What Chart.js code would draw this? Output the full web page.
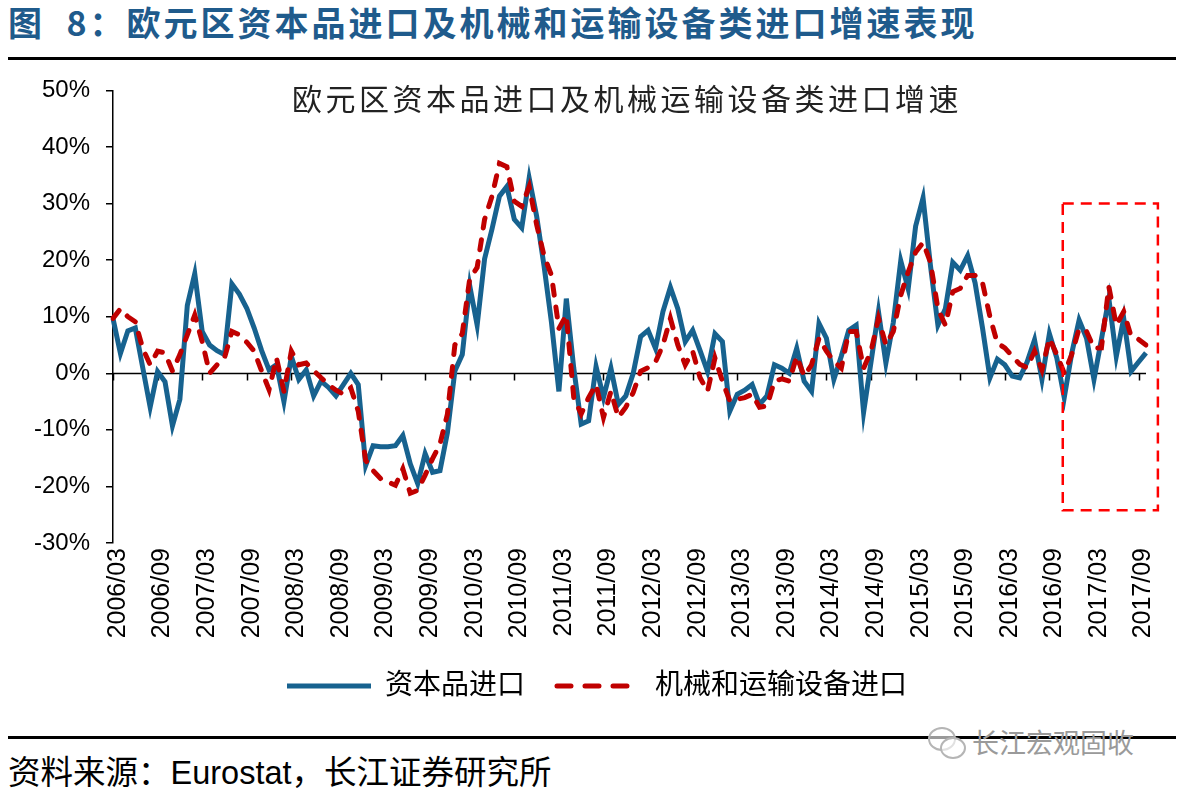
<!DOCTYPE html>
<html>
<head>
<meta charset="utf-8">
<script src="https://cdn.jsdelivr.net/npm/chart.js@4.4.0/dist/chart.umd.min.js"></script>
<style>
  body {
    margin: 0;
    background: #fff;
    width: 1183px;
    height: 794px;
    position: relative;
    overflow: hidden;
    font-family: 'Liberation Sans', 'Noto Sans CJK SC', sans-serif;
  }
  #fig-title {
    position: absolute; left: 8px; top: 0; line-height: 44px;
    font-family: 'Noto Sans CJK SC', sans-serif;
    font-size: 34px; font-weight: bold; color: #1f5b8c;
    letter-spacing: 3px; white-space: nowrap;
  }
  .rule { position: absolute; left: 8px; width: 1168px; height: 3px; background: #000; }
  #chart-title {
    position: absolute; left: 227px; width: 800px; top: 80px; line-height: 34px;
    text-align: center; font-family: 'Noto Sans CJK SC', sans-serif;
    font-size: 30px; letter-spacing: 3.5px; color: #222; white-space: nowrap;
  }
  #wrap { position: absolute; left: 0; top: 60px; }
  #source {
    position: absolute; left: 8px; top: 754px; line-height: 38px;
    font-size: 32.5px; color: #000; white-space: nowrap;
  }
  #mark {
    position: absolute; left: 972px; top: 726px; line-height: 32px;
    font-family: 'Noto Sans CJK SC', sans-serif;
    font-size: 27px; color: #9a9a9a; white-space: nowrap;
  }
  .bubble { position: absolute; border: 2px solid #b5b5b5; border-radius: 50%; background: rgba(255,255,255,0.6); }
</style>
</head>
<body>
<div id="fig-title">图&nbsp;&nbsp;8：欧元区资本品进口及机械和运输设备类进口增速表现</div>
<div class="rule" style="top:57px"></div>
<div id="wrap"><canvas id="chart" width="1183" height="650"></canvas></div>
<div id="chart-title">欧元区资本品进口及机械运输设备类进口增速</div>
<div class="rule" style="top:736px"></div>
<div class="bubble" style="left:928px; top:727px; width:24px; height:20px;"></div>
<div class="bubble" style="left:940px; top:737px; width:22px; height:18px;"></div>
<div id="mark">长江宏观固收</div>
<div id="source">资料来源：Eurostat，长江证券研究所</div>

<script>
// monthly, 2006/03 .. 2017/10
const START_YEAR = 2006, START_MONTH = 3, N_MONTHS = 140;
const months = [];
for (let k = 0; k < N_MONTHS; k++) {
  const m = START_MONTH - 1 + k;
  const y = START_YEAR + Math.floor(m / 12);
  const mm = (m % 12) + 1;
  months.push(y + '/' + (mm < 10 ? '0' + mm : mm));
}

const tickLabels = ['2006/03','2006/09','2007/03','2007/09','2008/03','2008/09','2009/03','2009/09',
  '2010/03','2010/09','2011/03','2011/09','2012/03','2012/09','2013/03','2013/09',
  '2014/03','2014/09','2015/03','2015/09','2016/03','2016/09','2017/03','2017/09'];

// 资本品进口 同比 %
const capitalGoods = [
  9.7, 3.5, 7.5, 8.0, 1.0, -6.0, 0.3, -1.5, -9.3, -4.6,
  12, 17.6, 7.4, 5, 4, 3.3, 15.8, 14, 11.5, 8,
  4, 0.6, 1.5, -5.0, 3.0, -1.1, 0.6, -4, -1.4, -2.5,
  -4, -2, 0, -2, -16.3, -12.8, -13, -13, -12.8, -11,
  -16, -19.5, -14.2, -17.5, -17.2, -10.5, 0.4, 3.3, 15.5, 8.5,
  20.2, 25.5, 31.3, 33, 27.2, 25.7, 34.5, 27.8, 19, 9,
  -3.2, 13.2, 0.9, -9, -8.4, 1.2, -4.3, 0.9, -5.5, -4,
  0, 6.5, 7.6, 4.4, 10.9, 15.2, 11.4, 5.6, 7.6, 4,
  0.3, 7, 5.6, -6.7, -3.7, -3, -2, -5.5, -4, 1.5,
  0.9, 0, 4.4, -1.4, -3.2, 8.8, 6.2, -1.1, 3, 7.6,
  8.5, -6.9, 2, 10.9, 1.8, 9, 19.9, 14.9, 26, 31,
  19, 8.5, 11.4, 19.6, 18.2, 20.8, 16, 8, -0.8, 2.5,
  1.5, -0.5, -0.8, 2, 5.9, -1.1, 7, 2.7, -4.3, 3.5,
  9.4, 6.2, -1.1, 6, 13.2, 3, 9.7, 0.35, 2, 3.6
];

// 机械和运输设备进口 同比 %
const machinery = [
  9.7, 11.4, 10, 9.1, 4.4, 1.5, 3.9, 3.6, 0.4, 3.3,
  6.8, 10.3, 5.6, 0, 1.5, 2.7, 7.4, 6.8, 5.5, 3.9,
  0.4, -2.9, 2.7, -3.2, 3.9, 1.5, 1.8, 0.5, -0.8, -2,
  -3, -3.7, -2.6, -6.7, -15.4, -17.2, -18.6, -19.2, -19.8, -16.9,
  -21.2, -20.7, -18, -15.1, -12.5, -7.2, 5, 7, 16.7, 18.7,
  27.2, 31.3, 37.1, 36.5, 30.4, 29.5, 33, 26.3, 20.8, 17.3,
  7.9, 10.3, -4.3, -7.2, -4.3, -2, -7.8, -3.2, -7.8, -6,
  -3.4, 0.35, 1, 2, 5, 9.7, 5, 1.5, 3.9, -0.8,
  -3.2, 2.7, -1.4, -4.9, -4.6, -4.3, -3.7, -6, -5.8, -1.4,
  -1, -1.4, 3, -0.5, 1.5, 6.2, 3.9, 2.1, 0.9, 7.4,
  7.4, 0.9, 3.9, 9.7, 5, 7.4, 13.8, 17.9, 21.4, 23.1,
  19.6, 11.4, 8.5, 14.4, 15, 17.3, 17.3, 16, 10, 5.3,
  4.5, 3, 1.6, 1, 3.9, 0.6, 6.2, 3.3, 0, 3.3,
  7.9, 7.4, 4.4, 4.5, 15.3, 8.5, 10.9, 6.5, 6, 5
];

// highlighted window (category index / percent)
const boxFrom = 127.8, boxTo = 140.6, boxTop = 30, boxBottom = -24.2;

const BLUE = '#17628f';
const RED = '#c00000';
const LEGEND_SHIFT = 14;

Chart.defaults.font.family = "'Liberation Sans', 'Noto Sans CJK SC', sans-serif";
Chart.defaults.color = '#000';

// x axis drawn through 0%, with a tick every 6 months
const zeroAxis = {
  id: 'zeroAxis',
  beforeDatasetsDraw(chart) {
    const {ctx, chartArea, scales: {x, y}} = chart;
    const y0 = Math.round(y.getPixelForValue(0)) + 0.5;
    ctx.save();
    ctx.strokeStyle = '#000';
    ctx.lineWidth = 1.5;
    ctx.beginPath();
    ctx.moveTo(chartArea.left, y0);
    ctx.lineTo(chartArea.right, y0);
    for (let i = 0; i < months.length; i += 6) {
      const px = Math.round(x.getPixelForValue(i)) + 0.5;
      ctx.moveTo(px, y0);
      ctx.lineTo(px, y0 + 7);
    }
    ctx.stroke();
    ctx.restore();
  }
};

const highlightBox = {
  id: 'highlightBox',
  afterDatasetsDraw(chart) {
    const {ctx, scales: {x, y}} = chart;
    const l = x.getPixelForValue(boxFrom), r = x.getPixelForValue(boxTo);
    const t = y.getPixelForValue(boxTop), b = y.getPixelForValue(boxBottom);
    ctx.save();
    ctx.strokeStyle = '#ff0000';
    ctx.lineWidth = 2.5;
    ctx.setLineDash([11, 7]);
    ctx.strokeRect(l, t, r - l, b - t);
    ctx.restore();
  }
};

// legend sits a little right of the canvas centre in the original
const legendShift = {
  id: 'legendShift',
  afterLayout(chart) {
    if (chart.legend) {
      chart.legend.left += LEGEND_SHIFT;
      chart.legend.right += LEGEND_SHIFT;
    }
  }
};

new Chart(document.getElementById('chart'), {
  type: 'line',
  data: {
    labels: months,
    datasets: [
      {
        label: '资本品进口',
        data: capitalGoods,
        borderColor: BLUE,
        backgroundColor: BLUE,
        borderWidth: 5,
        borderCapStyle: 'butt',
        pointRadius: 0,
        tension: 0,
        order: 2
      },
      {
        label: '机械和运输设备进口',
        data: machinery,
        borderColor: RED,
        backgroundColor: RED,
        borderWidth: 5,
        borderDash: [10, 12],
        borderCapStyle: 'round',
        pointRadius: 0,
        tension: 0,
        order: 1
      }
    ]
  },
  options: {
    responsive: false,
    animation: false,
    layout: { padding: { left: 20, right: 37, top: 26, bottom: 0 } },
    plugins: {
      title: { display: false },
      tooltip: { enabled: false },
      legend: {
        position: 'bottom',
        labels: {
          usePointStyle: true,
          pointStyle: 'line',
          pointStyleWidth: 84,
          padding: 32,
          font: { size: 28 },
          color: '#000',
          sort: (a, b) => a.datasetIndex - b.datasetIndex,
          generateLabels: (chart) =>
            Chart.defaults.plugins.legend.labels.generateLabels(chart).map(item => {
              const ds = chart.data.datasets[item.datasetIndex];
              return Object.assign(item, {
                lineWidth: ds.borderWidth,
                lineDash: ds.borderDash ? [14, 14] : [],
                lineCap: ds.borderCapStyle,
                strokeStyle: ds.borderColor,
                pointStyle: 'line'
              });
            })
        }
      }
    },
    scales: {
      x: {
        type: 'category',
        offset: false,
        grid: { display: false, drawTicks: false },
        border: { display: false },
        ticks: {
          autoSkip: false,
          minRotation: 90,
          maxRotation: 90,
          padding: 5,
          labelOffset: 5,
          font: { size: 25 },
          color: '#000',
          callback: (v, i) => (i % 6 === 0 ? tickLabels[i / 6] : '')
        },
        afterFit: (s) => { s.height = 97; }
      },
      y: {
        min: -30,
        max: 50,
        grid: { drawOnChartArea: false, drawTicks: true, tickLength: 7, color: '#000', lineWidth: 1.5 },
        border: { display: true, color: '#000', width: 1.5 },
        ticks: {
          stepSize: 10,
          padding: 16,
          font: { size: 24 },
          color: '#000',
          callback: (v) => v + '%'
        },
        afterFit: (s) => { s.width = 93; }
      }
    }
  },
  plugins: [zeroAxis, highlightBox, legendShift]
});
</script>
</body>
</html>
